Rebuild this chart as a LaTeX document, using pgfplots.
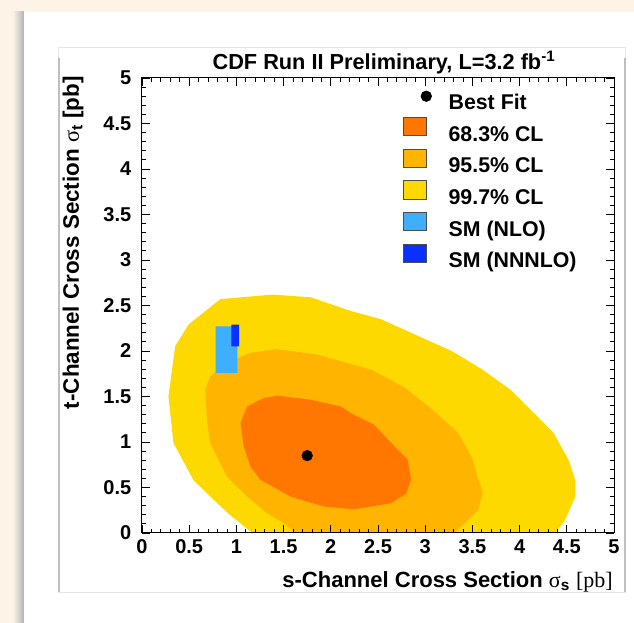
\documentclass[border=0pt]{standalone}
\usepackage{pgfplots}
\pgfplotsset{compat=1.18}
\usepackage{fontspec}
\setmainfont{Liberation Sans}
\newfontfamily\serif{Liberation Serif}
\definecolor{bgbeige}{HTML}{FDF3E6}
\definecolor{c683}{HTML}{FF7700}
\definecolor{c955}{HTML}{FFB400}
\definecolor{c997}{HTML}{FDD900}
\definecolor{cnlo}{HTML}{40AEFF}
\definecolor{cnnnlo}{HTML}{0A30FF}
\newcommand\sqimg[1]{\addlegendimage{legend image code/.code={\path[draw=none,fill=none] (0pt,-0.75pt) rectangle (22pt,13pt);\draw[fill=#1,draw=black!70,line width=0.5pt] (0pt,-0.75pt) rectangle (17pt,13pt);}}}
\begin{document}
\begin{tikzpicture}
\fill[bgbeige] (-106.5pt,-67.5pt) rectangle (369pt,399.75pt);
\shade[left color=bgbeige, right color=black!30] (-96.75pt,-67.5pt) rectangle (-88.5pt,390.75pt);
\fill[white] (-88.5pt,-67.5pt) rectangle (369pt,390.75pt);
\draw[black!10, line width=0.75pt] (-62.25pt,-44.25pt) rectangle (362.25pt,363.75pt);
\draw[black!25, line width=1pt] (-62.25pt,-44.25pt) -- (-62.25pt,356pt);
\draw[black!25, line width=1pt] (362.25pt,-44.25pt) -- (362.25pt,356pt);
\begin{axis}[
  at={(0pt,0pt)}, anchor=south west,
  scale only axis, width=354pt, height=341.25pt,
  xmin=0, xmax=5, ymin=0, ymax=5,
  clip mode=individual,
  xtick={0,0.5,1,1.5,2,2.5,3,3.5,4,4.5,5},
  ytick={0,0.5,1,1.5,2,2.5,3,3.5,4,4.5,5},
  minor tick num=4,
  tick align=inside, tick pos=both,
  major tick length=6pt, minor tick length=3pt,
  every tick/.style={black, line width=0.6pt},
  axis line style={black, line width=0.75pt},
  axis on top,
  ticklabel style={font=\fontsize{15}{15}\selectfont\bfseries},
  /pgf/number format/assume math mode=true,
  xticklabel style={yshift=-1.5pt},
  yticklabel style={xshift=-4.5pt},
  xlabel={s-Channel Cross Section {\serif\mdseries σ}\textsubscript{s} {\serif\mdseries [pb]}},
  xlabel style={at={(axis description cs:0.998,-0.119)}, anchor=base east, inner sep=0pt, font=\fontsize{16.5}{16.5}\selectfont\bfseries},
  ylabel={t-Channel Cross Section {\serif\mdseries σ}\textsubscript{t} [pb]},
  ylabel style={at={(axis description cs:-0.1338,1.0044)}, anchor=base east, inner sep=0pt, font=\fontsize{16.8}{16.8}\selectfont\bfseries},
  legend style={draw=none, fill=none, inner sep=0pt, at={(axis description cs:0.553,0.984)}, anchor=north west,
    font=\fontsize{16}{16}\selectfont\bfseries, row sep=2pt,
    nodes={inner sep=0pt, text height=13.5pt, text depth=3.5pt},
    /tikz/every odd column/.append style={column sep=11.75pt}},
  legend cell align=left,
]
% 99.7% CL
\addplot[fill=c997, draw=none, forget plot] coordinates {
(1.17,0) (0.93,0.2) (0.795,0.33) (0.546,0.58) (0.333,0.99) (0.28,1.50) (0.351,2.05) (0.493,2.29)
(0.83,2.57) (1.38,2.62) (1.787,2.59) (2.21,2.44) (2.53,2.35) (3.28,2.0) (3.6,1.80) (3.91,1.57)
(4.36,1.10) (4.52,0.80) (4.59,0.58) (4.59,0.40) (4.48,0.14) (4.38,0) (1.17,0)};
% 95.5% CL
\addplot[fill=c955, draw=none, forget plot] coordinates {
(1.63,0) (1.503,0.107) (1.327,0.217) (1.114,0.40) (0.90,0.62) (0.723,0.99) (0.688,1.24) (0.67,1.575)
(0.723,1.72) (0.90,1.87) (1.149,1.98) (1.433,2.02) (1.86,1.96) (2.43,1.795) (2.78,1.60) (3.06,1.37)
(3.35,1.10) (3.49,0.84) (3.61,0.44) (3.56,0.25) (3.38,0.07) (3.31,0) (1.63,0)};
% 68.3% CL
\addplot[fill=c683, draw=none, forget plot] coordinates {
(1.043,1.208) (1.114,1.39) (1.29,1.483) (1.433,1.509) (1.787,1.465) (2.106,1.39) (2.21,1.318)
(2.46,1.19) (2.64,0.988) (2.816,0.804) (2.85,0.584) (2.80,0.437) (2.64,0.327) (2.25,0.261)
(1.93,0.29) (1.574,0.40) (1.255,0.584) (1.149,0.73) (1.078,0.95) (1.043,1.208)};
% SM NLO
\addplot[fill=cnlo, draw=none, forget plot] coordinates {(0.78,1.76) (1.01,1.76) (1.01,2.27) (0.78,2.27) (0.78,1.76)};
% SM NNNLO
\addplot[fill=cnnnlo, draw=none, forget plot] coordinates {(0.947,2.05) (1.03,2.05) (1.03,2.29) (0.947,2.29) (0.947,2.05)};
% best fit
\addplot[only marks, mark=*, mark size=4pt, black, forget plot] coordinates {(1.75,0.85)};
\addlegendimage{legend image code/.code={\path[draw=none,fill=none] (0pt,-0.75pt) rectangle (22pt,13pt);\fill[black] (17pt,5pt) circle (4pt);}}
\addlegendentry{Best Fit}
\sqimg{c683}
\addlegendentry{68.3\% CL}
\sqimg{c955}
\addlegendentry{95.5\% CL}
\sqimg{c997}
\addlegendentry{99.7\% CL}
\sqimg{cnlo}
\addlegendentry{SM (NLO)}
\sqimg{cnnnlo}
\addlegendentry{SM (NNNLO)}
\node[anchor=base west, inner sep=0pt, font=\fontsize{16.3}{16.3}\selectfont\bfseries] at (rel axis cs:0.149,1.0176) {CDF Run II Preliminary, L=3.2 fb\textsuperscript{-1}};
\end{axis}
\end{tikzpicture}
\end{document}
